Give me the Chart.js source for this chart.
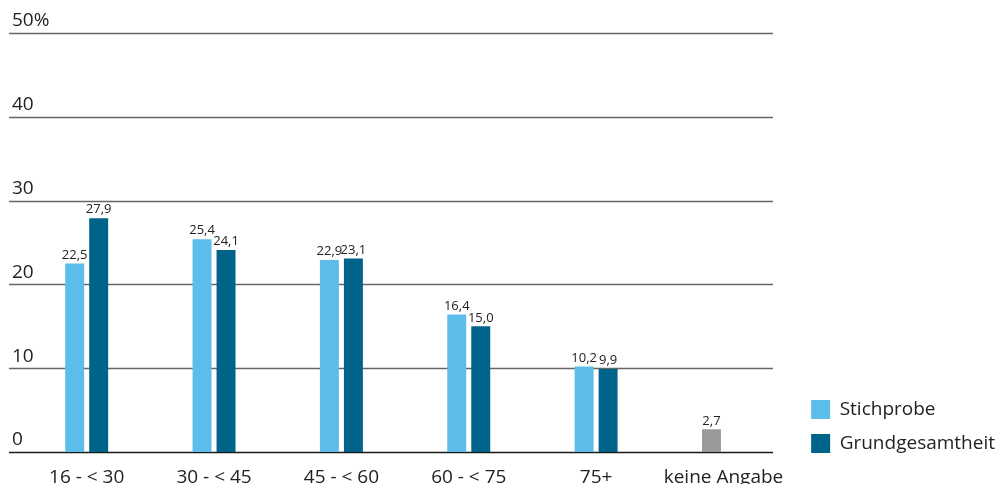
<!DOCTYPE html>
<html>
<head>
<meta charset="utf-8">
<script src="https://cdn.jsdelivr.net/npm/chart.js@4/dist/chart.umd.min.js"></script>
<style>
  body { margin: 0; background: #fff; }
  #wrap { width: 1002px; height: 484px; }
</style>
</head>
<body>
<div id="wrap"><canvas id="chart" width="1002" height="484"></canvas></div>
<script>
// Altersgruppen
const categories = ['16 - < 30', '30 - < 45', '45 - < 60', '60 - < 75', '75+', 'keine Angabe'];
const stichprobe = [22.5, 25.4, 22.9, 16.4, 10.2, 2.7];
const grundgesamtheit = [27.9, 24.1, 23.1, 15.0, 9.9, null];
const yTickLabels = ['0', '10', '20', '30', '40', '50%'];
const seriesLabels = ['Stichprobe', 'Grundgesamtheit'];

const hellblau = '#5dbdea';
const dunkelblau = '#00638a';
const grau = '#9a9a9c';
const textColor = '#222222';
const fontFamily = "'Open Sans', sans-serif";

// Balkenfarben: letzte Kategorie grau
const stichprobeColors = categories.map((c, i) => i === categories.length - 1 ? grau : hellblau);

const fmt = v => v.toFixed(1).replace('.', ',');

// eigene Gitterlinien (etwas weiter links beginnend als die Balkenfläche)
const gridPlugin = {
  id: 'gridLines',
  beforeDatasetsDraw(chart) {
    const ctx = chart.ctx;
    const y = chart.scales.y;
    ctx.save();
    y.ticks.forEach(t => {
      const py = Math.round(y.getPixelForValue(t.value)) + 0.5;
      ctx.beginPath();
      ctx.lineWidth = 1.5;
      ctx.strokeStyle = t.value === 0 ? '#1a1a1a' : '#666666';
      ctx.moveTo(9, py);
      ctx.lineTo(773, py);
      ctx.stroke();
    });
    ctx.restore();
  }
};

// Werte über den Balken
const valueLabels = {
  id: 'valueLabels',
  afterDatasetsDraw(chart) {
    const ctx = chart.ctx;
    ctx.save();
    ctx.font = '13px ' + fontFamily;
    ctx.fillStyle = textColor;
    ctx.textAlign = 'center';
    ctx.textBaseline = 'bottom';
    chart.data.datasets.forEach((ds, di) => {
      const meta = chart.getDatasetMeta(di);
      meta.data.forEach((bar, i) => {
        const v = ds.data[i];
        if (v === null || v === undefined) return;
        ctx.fillText(fmt(v), bar.x, bar.y - 2);
      });
    });
    ctx.restore();
  }
};

// Legende unten rechts neben die Grafik schieben
const legendPlace = {
  id: 'legendPlace',
  afterLayout(chart) {
    const lg = chart.legend;
    const w = lg.right - lg.left;
    lg.left = chart.chartArea.right + 9;
    lg.right = lg.left + w;
    lg.bottom = chart.chartArea.bottom + 16;
  }
};

const ctx = document.getElementById('chart').getContext('2d');
const chart = new Chart(ctx, {
  type: 'bar',
  data: {
    labels: categories,
    datasets: [{
      label: seriesLabels[0],
      data: stichprobe,
      backgroundColor: stichprobeColors,
      borderWidth: 0
    }, {
      label: seriesLabels[1],
      data: grundgesamtheit,
      backgroundColor: dunkelblau,
      borderWidth: 0
    }]
  },
  options: {
    responsive: false,
    animation: false,
    layout: {
      padding: { left: 12, top: 33, right: 6, bottom: 0 }
    },
    datasets: {
      bar: {
        categoryPercentage: 0.377,
        barPercentage: 0.79
      }
    },
    scales: {
      x: {
        grid: { display: false, drawTicks: false },
        border: { display: false },
        ticks: {
          color: textColor,
          font: { family: fontFamily, size: 19 },
          padding: 14,
          maxRotation: 0,
          autoSkip: false
        },
        afterFit(scale) {
          scale.height = 32;
          scale.paddingLeft = 0;
          scale.paddingRight = 0;
        }
      },
      y: {
        min: 0,
        max: 50,
        grid: { display: false, drawTicks: false },
        border: { display: false },
        ticks: {
          stepSize: 10,
          color: textColor,
          font: { family: fontFamily, size: 19 },
          mirror: true,
          padding: -11,
          labelOffset: -12,
          callback: (v, i) => yTickLabels[i]
        },
        afterFit(scale) {
          scale.width = 11;
          scale.paddingTop = 0;
          scale.paddingBottom = 0;
        }
      }
    },
    plugins: {
      tooltip: { enabled: false },
      legend: {
        display: true,
        position: 'right',
        align: 'end',
        labels: {
          boxWidth: 19,
          boxHeight: 19,
          padding: 15,
          color: textColor,
          font: { family: fontFamily, size: 19 },
          generateLabels: (c) => c.data.datasets.map((ds, i) => ({
            text: ds.label,
            fillStyle: i === 0 ? hellblau : dunkelblau,
            strokeStyle: i === 0 ? hellblau : dunkelblau,
            lineWidth: 0,
            fontColor: textColor,
            datasetIndex: i
          }))
        }
      }
    }
  },
  plugins: [gridPlugin, valueLabels, legendPlace]
});
</script>
</body>
</html>
